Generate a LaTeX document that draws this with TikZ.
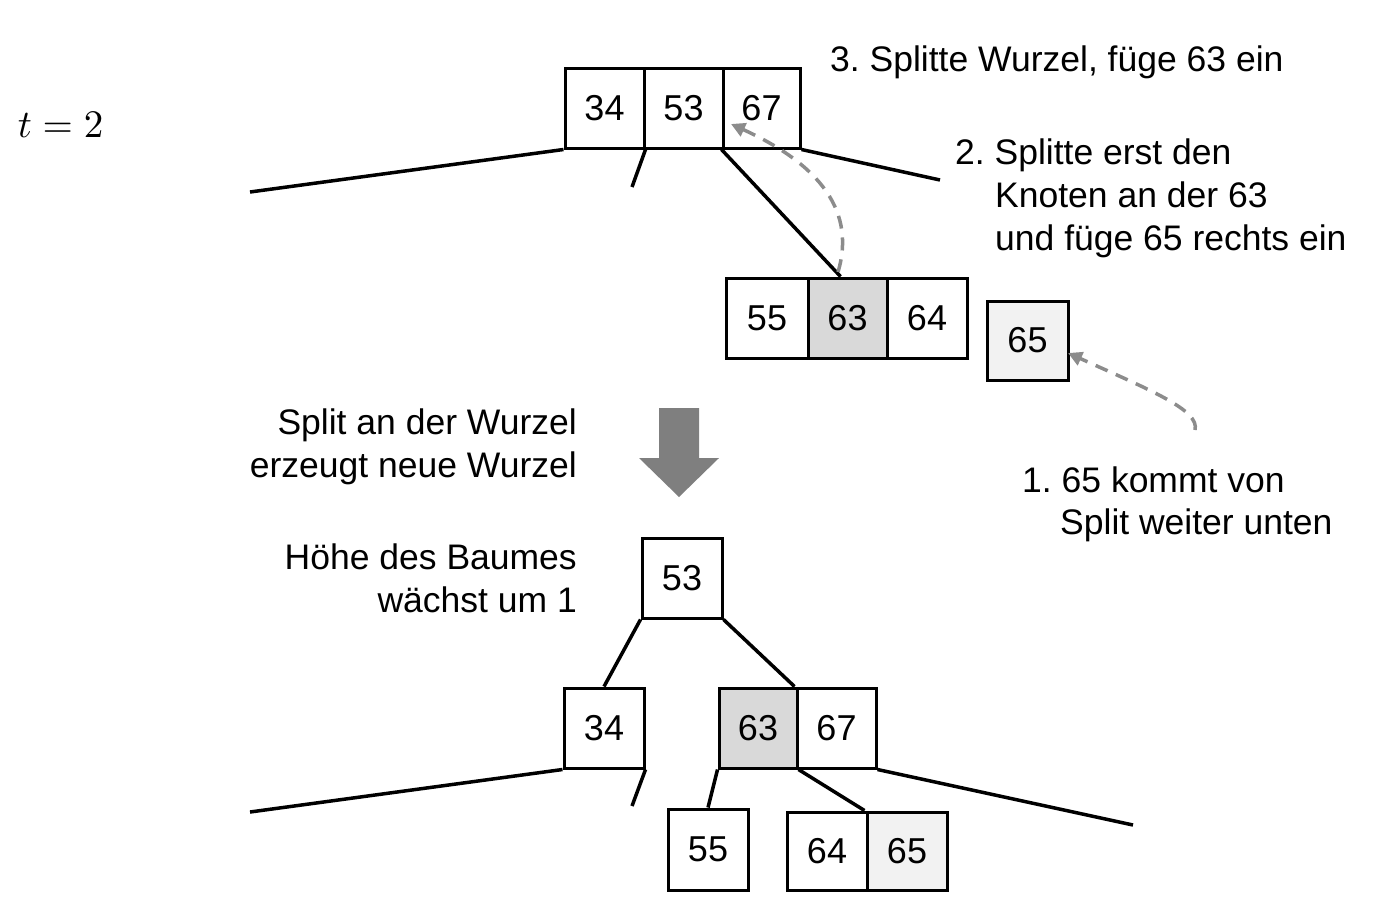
\documentclass[tikz,border=0pt]{standalone}
\usepackage{fontspec}
\setmainfont{Liberation Sans}
\usetikzlibrary{arrows.meta}
\definecolor{dgray}{HTML}{D9D9D9}
\definecolor{lgray}{HTML}{F2F2F2}
\definecolor{agray}{HTML}{7F7F7F}
\definecolor{dashgray}{HTML}{8C8C8C}
\frenchspacing
\begin{document}
\begin{tikzpicture}[x=1pt,y=-1pt,
  cell/.style={draw=black,line width=3pt,fill=white,inner sep=0pt,minimum width=79pt,minimum height=80pt,font=\fontsize{36}{43}\selectfont},
  edge/.style={line width=3.5pt,line cap=butt},
  lbl/.style={inner sep=0pt,font=\fontsize{35.5}{43}\selectfont},
  dasharrow/.style={dashgray,line width=3.5pt,dash pattern=on 13pt off 9pt,-{Triangle[length=14pt,width=14pt]}}
]
\useasboundingbox (0,0) rectangle (1380,903);
% top root
\node[cell] (r34) at (604.5,108) {34};
\node[cell] (r53) at (683.5,108) {53};
\node[cell,minimum width=77pt] (r67) at (761.5,108) {67};
% middle node
\node[cell,minimum width=82pt] (m55) at (767,318) {55};
\node[cell,fill=dgray] (m63) at (847.5,318) {63};
\node[cell,minimum width=80pt] (m64) at (927,318) {64};
\node[cell,fill=lgray,minimum width=81pt,minimum height=79pt] (m65) at (1027.5,340.5) {65};
% bottom tree
\node[cell,minimum width=80pt] (b53) at (682,578) {53};
\node[cell,minimum width=80pt] (b34) at (604,728) {34};
\node[cell,fill=dgray,minimum width=78pt] (b63) at (758,728) {63};
\node[cell] (b67) at (836.5,728) {67};
\node[cell,minimum width=80pt,minimum height=81pt] (b55) at (708,849.5) {55};
\node[cell,minimum width=80pt,minimum height=78pt] (b64) at (827,851) {64};
\node[cell,fill=lgray,minimum width=80pt,minimum height=78pt] (b65) at (907,851) {65};
% free ends
\coordinate (tl) at (250,192);
\coordinate (tm) at (632,187);
\coordinate (tr) at (940,180);
\coordinate (bl) at (250,812);
\coordinate (bm) at (632,806);
\coordinate (br) at (1133,825);
% top edges
\draw[edge] (r34.south west) -- (tl);
\draw[edge] (r34.south east) -- (tm);
\draw[edge] (r67.south west) -- ([xshift=-7pt]m63.north);
\draw[edge] (r67.south east) -- (tr);
% bottom edges
\draw[edge] (b53.south west) -- (b34.north);
\draw[edge] (b53.south east) -- ([xshift=-4pt]b63.north east);
\draw[edge] (b34.south west) -- (bl);
\draw[edge] (b34.south east) -- (bm);
\draw[edge] (b63.south west) -- (b55.north);
\draw[edge] (b63.south east) -- ([xshift=-4pt]b64.north east);
\draw[edge] (b67.south east) -- (br);
% dashed arrows
\coordinate (d1s) at (838,272);
\coordinate (d1e) at (731,124);
\draw[dasharrow] (d1s) .. controls (858,205) and (810,160) .. (d1e);
\coordinate (d2s) at (1195,430);
\coordinate (d2e) at (1068,353);
\draw[dasharrow] (d2s) .. controls (1200,410) and (1150,390) .. (d2e);
% big arrow
\fill[agray] (659,408) -- (699,408) -- (699,458) -- (719,458) -- (679,497) -- (639,458) -- (659,458) -- cycle;
% texts
\node[inner sep=0pt,anchor=base west,scale=3.9] (t) at (17,137) {$t=2$};
\node[lbl,anchor=base west] (l3) at (830,71) {3. Splitte Wurzel, füge 63 ein};
\node[lbl,anchor=base west] (l2a) at (955,164) {2. Splitte erst den};
\node[lbl,anchor=base west] (l2b) at (995,207) {Knoten an der 63};
\node[lbl,anchor=base west] (l2c) at (995,250) {und füge 65 rechts ein};
\node[lbl,anchor=base east] (s1) at (577,434) {Split an der Wurzel};
\node[lbl,anchor=base east] (s2) at (577,477) {erzeugt neue Wurzel};
\node[lbl,anchor=base east] (h1) at (577,569) {Höhe des Baumes};
\node[lbl,anchor=base east] (h2) at (577,612) {wächst um 1};
\node[lbl,anchor=base west] (k1) at (1022,492) {1. 65 kommt von};
\node[lbl,anchor=base west] (k2) at (1060,534) {Split weiter unten};
\end{tikzpicture}
\end{document}
